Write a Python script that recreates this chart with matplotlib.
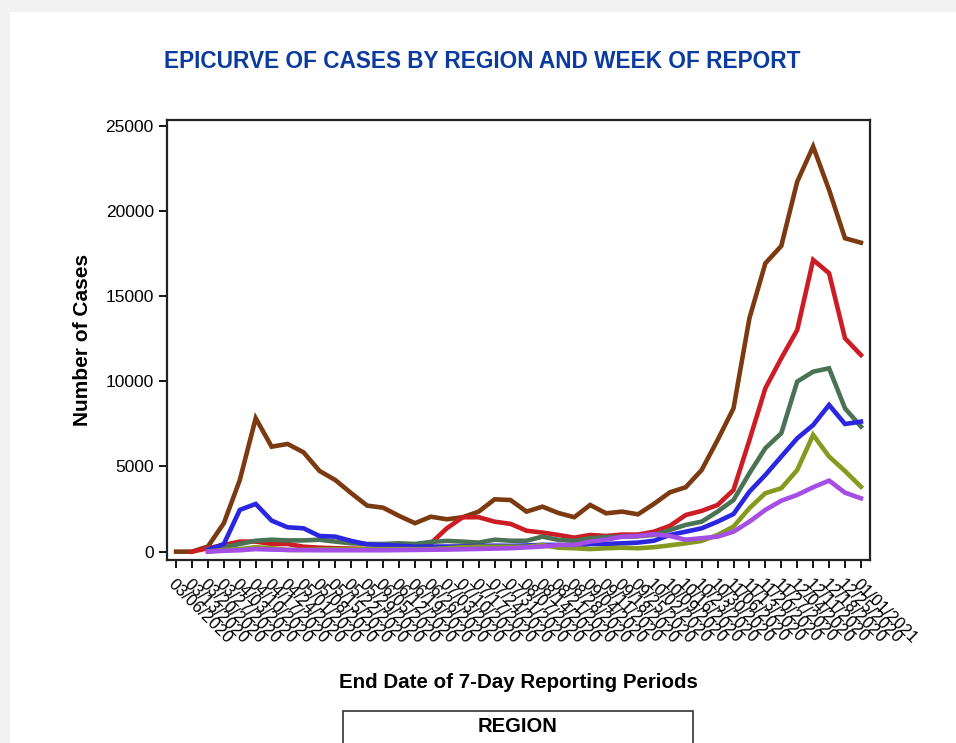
import datetime as dt

import matplotlib
matplotlib.use("Agg")
import matplotlib.pyplot as plt
import numpy as np
from matplotlib.patches import Rectangle

plt.rcParams["font.family"] = ["Liberation Sans", "DejaVu Sans"]

nan = np.nan

# weekly reporting periods, 03/06/2020 -> 01/01/2021
start = dt.date(2020, 3, 6)
dates = [start + dt.timedelta(days=7 * k) for k in range(44)]
date_labels = [d.strftime("%m/%d/%Y") for d in dates]

regions = ["NE", "SE", "SC", "NW", "SW", "CE"]

brown = [0, 0, 300, 1670, 4200, 7830, 6160, 6320, 5830, 4740, 4200, 3430,
         2700, 2580, 2100, 1670, 2050, 1900, 2020, 2350, 3070, 3030, 2350, 2640,
         2270, 2020, 2740, 2250, 2350, 2190, 2800, 3480, 3780, 4790, 6550, 8410,
         13700, 16920, 17940, 21710, 23770, 21230, 18390, 18130]
red = [nan, 0, 200, 390, 590, 590, 450, 450, 290, 230, 200, 180,
       160, 150, 150, 200, 490, 1370, 2020, 2020, 1760, 1630, 1230, 1120,
       980, 820, 980, 920, 1000, 1000, 1170, 1510, 2150, 2390, 2740, 3620,
       6550, 9590, 11350, 13010, 17120, 16340, 12520, 11540]
green = [nan, nan, 150, 260, 450, 640, 700, 660, 660, 700, 590, 490,
         450, 450, 490, 450, 570, 630, 590, 530, 700, 640, 640, 880,
         690, 630, 790, 850, 870, 900, 980, 1270, 1570, 1760, 2350, 3030,
         4600, 6070, 6950, 9980, 10560, 10760, 8410, 7340]
blue = [nan, nan, 100, 450, 2450, 2800, 1820, 1430, 1370, 920, 880, 630,
        430, 390, 350, 290, 300, 300, 310, 330, 350, 340, 360, 400,
        390, 330, 450, 450, 490, 530, 640, 980, 1170, 1370, 1760, 2210,
        3520, 4500, 5580, 6650, 7430, 8610, 7490, 7630]
olive = [nan, nan, 0, 100, 150, 260, 200, 100, 100, 130, 140, 140,
         150, 150, 150, 150, 150, 200, 260, 290, 290, 290, 290, 390,
         230, 200, 150, 200, 230, 200, 260, 370, 490, 630, 980, 1470,
         2550, 3430, 3720, 4790, 6850, 5580, 4730, 3810]
purple = [nan, nan, 0, 50, 80, 150, 120, 100, 90, 80, 80, 80,
          80, 80, 90, 100, 110, 120, 140, 160, 180, 200, 250, 300,
          390, 390, 590, 700, 880, 920, 1030, 920, 700, 790, 880, 1170,
          1760, 2450, 2990, 3330, 3780, 4170, 3460, 3130]

series = [brown, red, green, blue, olive, purple]
colors = ["#7b3a10", "#cc1c24", "#4a7355", "#2b26e0", "#859a1e", "#a44ee6"]

fig = plt.figure(figsize=(9.56, 7.43), dpi=100, facecolor="#f2f2f2")
fig.patches.append(Rectangle((10 / 956, 0), 1, 1 - 12 / 743,
                             transform=fig.transFigure, facecolor="white",
                             edgecolor="none", zorder=-10))

ax = fig.add_axes([167 / 956, 1 - 560 / 743, 703 / 956, 440 / 743])
ax.set_zorder(2)
x = np.arange(len(dates))
for vals, col, name in zip(series, colors, regions):
    ax.plot(x, vals, color=col, linewidth=3.3, label=name,
            solid_joinstyle="miter")

ax.set_xlim(-0.57, 43.57)
ax.set_ylim(-490, 25330)
ax.set_yticks([0, 5000, 10000, 15000, 20000, 25000])
ax.set_xticks(x)
ax.set_xticklabels(date_labels, rotation=-45, ha="left", va="top",
                   rotation_mode="anchor")
ax.tick_params(axis="both", direction="out", length=6, width=1.3,
               labelsize=12.5, colors="black")
ax.tick_params(axis="x", pad=6, labelsize=12)
for sp in ax.spines.values():
    sp.set_linewidth(1.6)
    sp.set_color("#222222")

ax.set_ylabel("Number of Cases", fontsize=15, fontweight="bold", labelpad=10)
fig.text(518 / 956, 1 - 682 / 743, "End Date of 7-Day Reporting Periods",
         ha="center", va="center", fontsize=14.8, fontweight="bold")
fig.text(482 / 956, 1 - 61 / 743, "EPICURVE OF CASES BY REGION AND WEEK OF REPORT",
         ha="center", va="center", fontsize=16.3, fontweight="bold",
         color="#0b3b9e")

leg = fig.legend(loc="upper center", bbox_to_anchor=(518 / 956, 1 - 711 / 743),
                 ncol=3, title="REGION", fontsize=12, frameon=True,
                 fancybox=False, edgecolor="black", handlelength=3.2,
                 columnspacing=1.8, borderpad=0.35, borderaxespad=0)
leg.get_title().set_fontweight("bold")
leg.get_title().set_fontsize(14.5)
leg.get_frame().set_linewidth(1.2)

fig.savefig("out.png", dpi=100, facecolor=fig.get_facecolor())
